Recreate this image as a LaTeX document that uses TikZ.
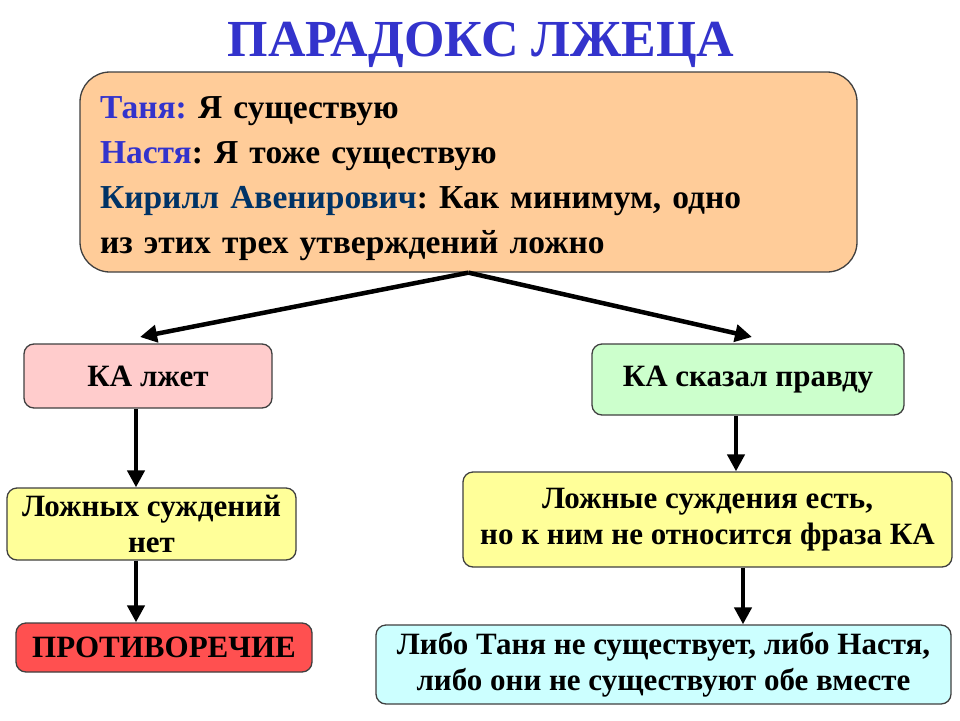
\documentclass[tikz,border=0pt]{standalone}
\usepackage{fontspec}
\newfontfamily\rus{Liberation Serif}[Renderer=OpenType]
\usetikzlibrary{arrows.meta}
\definecolor{peach}{HTML}{FFCC99}
\definecolor{pinkbox}{HTML}{FFCCCC}
\definecolor{greenbox}{HTML}{CCFFCC}
\definecolor{yellowbox}{HTML}{FFFF99}
\definecolor{redbox}{HTML}{FF5050}
\definecolor{cyanbox}{HTML}{CCFFFF}
\definecolor{titleblue}{HTML}{3333CC}
\definecolor{navy}{HTML}{003366}
\definecolor{edge}{HTML}{404040}
\tikzset{
  box/.style={draw=edge, line width=1.3pt, rounded corners=10pt, align=center,
    inner sep=0pt, font=\fontsize{31}{36}\rus\bfseries},
  arr/.style={line width=4.5pt, -{Triangle[length=17pt,width=17pt]}}
}
\frenchspacing
\begin{document}
\begin{tikzpicture}[x=1pt,y=-1pt]
\useasboundingbox (0,0) rectangle (960,720);
\fill[white] (0,0) rectangle (960,720);
\node[font=\fontsize{52}{60}\rus\bfseries, text=titleblue] (title) at (481,45) {ПАРАДОКС ЛЖЕЦА};
\node[box, rounded corners=30pt, fill=peach, minimum width=777pt, minimum height=200pt,
  text width=737pt, align=left, font=\fontsize{33.5}{45}\rus\bfseries] (top) at (468.5,172)
  {\rule{0pt}{36pt}\textcolor{titleblue}{Таня:} Я существую\\
   \textcolor{titleblue}{Настя}: Я тоже существую\\
   \textcolor{navy}{Кирилл Авенирович}: Как минимум, одно\\
   из этих трех утверждений ложно};
\node[box, fill=pinkbox, minimum width=248pt, minimum height=64pt] (lies) at (148,376) {КА лжет};
\node[box, fill=greenbox, minimum width=312pt, minimum height=71pt] (truth) at (748,379.5) {КА сказал правду};
\node[box, fill=yellowbox, minimum width=289pt, minimum height=72pt] (none) at (151.5,524) {Ложных суждений\\нет};
\node[box, fill=redbox, minimum width=296pt, minimum height=49pt] (contra) at (164,647.5) {ПРОТИВОРЕЧИЕ};
\node[box, fill=yellowbox, minimum width=489pt, minimum height=95pt] (some) at (707.5,519.5) {Ложные суждения есть,\\ но к ним не относится фраза КА};
\node[box, fill=cyanbox, minimum width=575pt, minimum height=79pt] (either) at (663.5,664.5) {Либо Таня не существует, либо Настя,\\либо они не существуют обе вместе};
\coordinate (tl) at (140,337);
\coordinate (tr) at (752,337);
\draw[arr] (top.south) -- (tl);
\draw[arr] (top.south) -- (tr);
\draw[arr] (lies.south -| 136,0) -- (none.north -| 136,0);
\draw[arr] (none.south -| 136,0) -- (contra.north -| 136,0);
\draw[arr] (truth.south -| 736,0) -- (some.north -| 736,0);
\draw[arr] (some.south -| 743,0) -- (either.north -| 743,0);
\end{tikzpicture}
\end{document}
